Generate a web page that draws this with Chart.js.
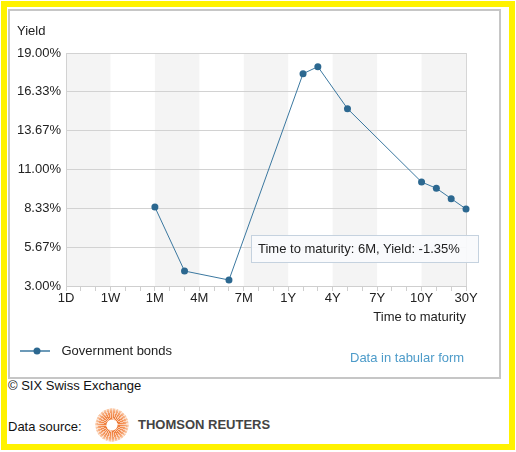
<!DOCTYPE html>
<html>
<head>
<meta charset="utf-8">
<script src="https://cdn.jsdelivr.net/npm/chart.js@4"></script>
<style>
  html, body { margin: 0; padding: 0; background: #fff; width: 516px; height: 452px; overflow: hidden; font-family: "Liberation Sans", Arial, sans-serif; color: #111; }
  .frame { position: absolute; left: 1px; top: 1px; width: 502px; height: 437px; border: 6px solid #fff200; }
  .box { position: absolute; left: 8px; top: 9px; width: 489px; height: 366px; border: 2px solid #c6c6c6; }
  #chartWrap { position: absolute; left: 10px; top: 11px; width: 489px; height: 366px; }
  .tip { position: absolute; left: 251px; top: 235px; width: 214px; height: 26px; line-height: 26px; padding: 0 6px; border: 1px solid #c5d2df; background: rgba(248,250,252,0.92); font-size: 13px; color: #222; white-space: nowrap; }
  .tabular { position: absolute; left: 350px; top: 350px; font-size: 13px; color: #4d9bc9; }
  .copy { position: absolute; left: 8px; top: 378px; font-size: 13px; color: #111; }
  .src { position: absolute; left: 8px; top: 419px; font-size: 13px; color: #111; }
  .logo { position: absolute; left: 95px; top: 408px; width: 34px; height: 34px; border-radius: 50%;
    background:
      repeating-conic-gradient(rgba(255,255,255,0.55) 0 5deg, rgba(255,255,255,0) 5deg 12deg),
      radial-gradient(circle, #fff 0 5px, #ee7a36 6px, #f28a4c 10px, #f6a878 14px, #fbd4b8 16.5px, rgba(255,255,255,0) 17px); }
  .tr { position: absolute; left: 138px; top: 417px; font-size: 13px; font-weight: bold; color: #444; }
</style>
</head>
<body>
<div class="frame"></div>
<div class="box"></div>
<div id="chartWrap"><canvas id="yieldChart" width="489" height="366"></canvas></div>
<div class="tip">Time to maturity: 6M, Yield: -1.35%</div>
<div class="tabular">Data in tabular form</div>
<div class="copy">© SIX Swiss Exchange</div>
<div class="src">Data source:</div>
<div class="logo"></div>
<div class="tr">THOMSON REUTERS</div>
<script>
const categories = ['1D','2D','3D','1W','2W','3W','1M','2M','3M','4M','5M','6M','7M','8M','9M','1Y','2Y','3Y','4Y','5Y','6Y','7Y','8Y','9Y','10Y','15Y','20Y','30Y'];
const xTickLabels = ['1D','1W','1M','4M','7M','1Y','4Y','7Y','10Y','30Y'];
const yieldValues = [null,null,null,null,null,null,8.42,null,4.03,null,null,3.41,null,null,null,null,17.58,18.06,null,15.18,null,null,null,null,10.14,9.71,9.00,8.29];
const yTickValues = [3.00, 5.67, 8.33, 11.00, 13.67, 16.33, 19.00];
const seriesName = 'Government bonds';

(() => {
  const FONT = '"Liberation Sans", Arial, sans-serif';
  const lineColor = '#3b78a0';
  const pointColor = '#2c6890';

  // legend icon: short line with a dot in the middle
  const icon = document.createElement('canvas');
  icon.width = 35; icon.height = 10;
  const g = icon.getContext('2d');
  g.strokeStyle = lineColor; g.lineWidth = 1.5;
  g.beginPath(); g.moveTo(0, 5); g.lineTo(30, 5); g.stroke();
  g.fillStyle = pointColor;
  g.beginPath(); g.arc(17, 5, 3.5, 0, Math.PI * 2); g.fill();

  // alternating grey bands between labelled ticks
  const bands = {
    id: 'bands',
    beforeDraw(chart) {
      const { ctx, chartArea: a, scales: { x } } = chart;
      ctx.save();
      ctx.fillStyle = '#f4f4f4';
      for (let i = 0; i < xTickLabels.length - 1; i += 2) {
        const x0 = x.getPixelForValue(categories.indexOf(xTickLabels[i]));
        const x1 = x.getPixelForValue(categories.indexOf(xTickLabels[i + 1]));
        ctx.fillRect(x0, a.top, x1 - x0, a.bottom - a.top);
      }
      ctx.strokeStyle = '#d6d6d6';
      ctx.lineWidth = 1;
      ctx.beginPath();
      ctx.moveTo(Math.round(a.right) + 0.5, a.top);
      ctx.lineTo(Math.round(a.right) + 0.5, a.bottom);
      ctx.stroke();
      ctx.restore();
    }
  };

  new Chart(document.getElementById('yieldChart').getContext('2d'), {
    type: 'line',
    data: {
      labels: categories,
      datasets: [{
        label: seriesName,
        data: yieldValues,
        borderColor: lineColor,
        borderWidth: 1,
        backgroundColor: pointColor,
        pointBackgroundColor: pointColor,
        pointBorderWidth: 0,
        pointRadius: 3.5,
        spanGaps: true,
        tension: 0,
      }],
    },
    options: {
      responsive: false,
      animation: false,
      events: [],
      layout: { padding: { left: 7, right: 33, top: 13, bottom: 9.5 } },
      plugins: {
        title: {
          display: true, text: 'Yield', align: 'start', color: '#222',
          font: { family: FONT, size: 13, weight: 'normal' },
          padding: { top: 0, bottom: 13.4 },
        },
        legend: {
          position: 'bottom', align: 'start',
          labels: {
            usePointStyle: true, pointStyle: icon, pointStyleWidth: 35,
            padding: 3, color: '#222', font: { family: FONT, size: 13 },
          },
        },
        tooltip: { enabled: false },
      },
      scales: {
        x: {
          grid: { drawOnChartArea: false, drawTicks: true, tickLength: 5, color: '#cfcfcf' },
          border: { color: '#cfcfcf' },
          ticks: {
            autoSkip: false, maxRotation: 0, padding: 0, color: '#222',
            font: { family: FONT, size: 13 },
            callback: (v, i) => xTickLabels.includes(categories[i]) ? categories[i] : '',
          },
          title: {
            display: true, text: 'Time to maturity', align: 'end', color: '#222',
            font: { family: FONT, size: 13 }, padding: { top: 3, bottom: 16.3 },
          },
        },
        y: {
          min: 3, max: 19,
          afterBuildTicks: (s) => { s.ticks = yTickValues.map((v) => ({ value: v })); },
          afterFit: (s) => { s.width = 49; },
          grid: { color: '#d2d2d2', drawTicks: false },
          border: { color: '#d2d2d2' },
          ticks: {
            padding: 5, color: '#222', font: { family: FONT, size: 13 },
            callback: (v) => v.toFixed(2) + '%',
          },
        },
      },
    },
    plugins: [bands],
  });
})();
</script>
</body>
</html>
